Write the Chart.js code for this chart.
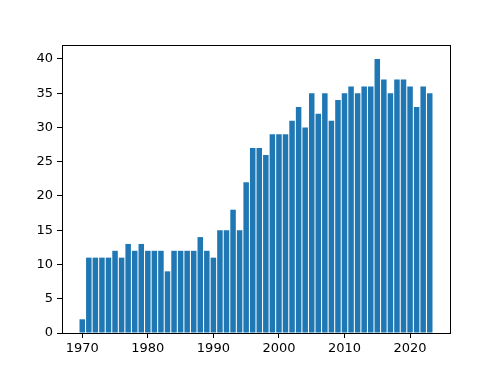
<!DOCTYPE html>
<html>
<head>
<meta charset="utf-8">
<script src="https://cdn.jsdelivr.net/npm/chart.js@4/dist/chart.umd.min.js"></script>
<style>
  html, body { margin: 0; padding: 0; background: #fff; }
  #wrap { width: 500px; height: 375px; }
</style>
</head>
<body>
<div id="wrap"><canvas id="chart" width="500" height="375"></canvas></div>
<script>
const years = [];
for (let y = 1970; y <= 2023; y++) years.push(y);

const counts = [
  2, 11, 11, 11, 11, 12, 11, 13, 12, 13,
  12, 12, 12, 9, 12, 12, 12, 12, 14, 12,
  11, 15, 15, 18, 15, 22, 27, 27, 26, 29,
  29, 29, 31, 33, 30, 35, 32, 35, 31, 34,
  35, 36, 35, 36, 36, 40, 37, 35, 37, 37,
  36, 33, 36, 35
];

const xTicks = [1970, 1980, 1990, 2000, 2010, 2020];
const yTicks = [0, 5, 10, 15, 20, 25, 30, 35, 40];

// Frame around the plot area (matplotlib-like spines)
const framePlugin = {
  id: 'frame',
  afterDraw(chart) {
    const { ctx, chartArea: a } = chart;
    ctx.save();
    ctx.strokeStyle = '#000';
    ctx.lineWidth = 1;
    ctx.strokeRect(Math.round(a.left) + 0.5, Math.round(a.top) + 0.5,
      Math.round(a.right - a.left), Math.round(a.bottom - a.top));
    ctx.restore();
  }
};

const font = { family: 'DejaVu Sans', size: 13 };

new Chart(document.getElementById('chart'), {
  type: 'bar',
  data: {
    datasets: [{
      data: years.map((y, i) => ({ x: y, y: counts[i] })),
      backgroundColor: '#1f77b4',
      borderWidth: 0,
      barPercentage: 0.84,
      categoryPercentage: 1.0
    }]
  },
  plugins: [framePlugin],
  options: {
    responsive: false,
    animation: false,
    layout: { padding: { left: 0, right: 50, top: 45, bottom: 0 } },
    plugins: { legend: { display: false }, tooltip: { enabled: false } },
    scales: {
      x: {
        type: 'linear',
        offset: false,
        min: 1966.91,
        max: 2026.09,
        afterBuildTicks(scale) { scale.ticks = xTicks.map(v => ({ value: v })); },
        afterFit(scale) { scale.height = 42; },
        grid: { offset: false, drawOnChartArea: false, drawTicks: true, tickLength: 5, color: '#000' },
        border: { display: false },
        ticks: { color: '#000', font, padding: 3, maxRotation: 0, callback: v => String(v) }
      },
      y: {
        min: 0,
        max: 42.04,
        afterBuildTicks(scale) { scale.ticks = yTicks.map(v => ({ value: v })); },
        afterFit(scale) { scale.width = 62; },
        grid: { drawOnChartArea: false, drawTicks: true, tickLength: 5, color: '#000' },
        border: { display: false },
        ticks: { color: '#000', font, padding: 4 }
      }
    }
  }
});
</script>
</body>
</html>
